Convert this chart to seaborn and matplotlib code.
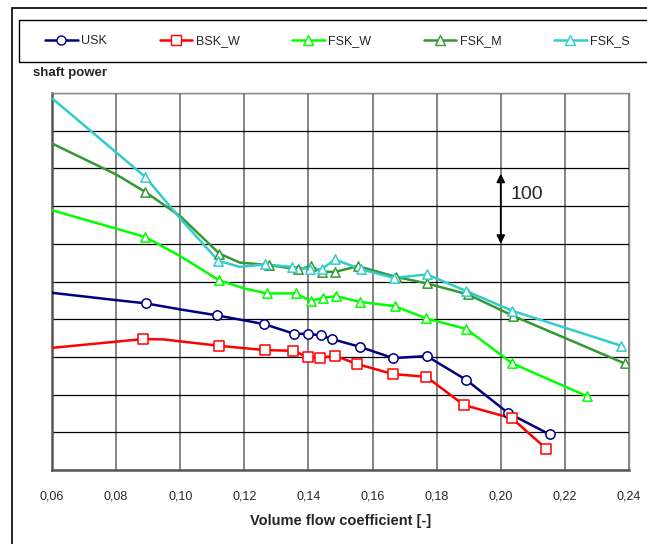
import matplotlib
matplotlib.use('Agg')
import matplotlib.pyplot as plt
import seaborn as sns
from matplotlib.lines import Line2D
from matplotlib.patches import Rectangle

# valores (eixo y sem escala, 50 unidades por linha de grade)
usk_x = [0.06, 0.08, 0.0893, 0.10, 0.1116, 0.1262, 0.1356, 0.1399, 0.1438, 0.1474,
         0.156, 0.1664, 0.1769, 0.1893, 0.2022, 0.2152]
usk_y = [235, 225.3, 221, 213, 205, 193.5, 180.6, 180.6, 178.5, 173.6,
         163.4, 148.4, 151.1, 119.3, 75.9, 47.3]
usk_m = [0, 0, 1, 0, 1, 1, 1, 1, 1, 1, 1, 1, 1, 1, 1, 1]

bsk_x = [0.06, 0.0883, 0.0948, 0.1121, 0.1265, 0.1353, 0.1399, 0.1436, 0.1483,
         0.1552, 0.1664, 0.1768, 0.1885, 0.2035, 0.2142]
bsk_y = [162, 173.6, 173.2, 164.7, 159, 158.1, 149.3, 148.8, 151.5,
         140.5, 127.2, 123.6, 86.1, 68.5, 28.2]
bsk_m = [0, 1, 0, 1, 1, 1, 1, 1, 1, 1, 1, 1, 1, 1, 1]

fskw_x = [0.06, 0.0891, 0.10, 0.1122, 0.12, 0.127, 0.1361, 0.1407, 0.1446, 0.1486,
          0.156, 0.1669, 0.1768, 0.1893, 0.2036, 0.2268]
fskw_y = [344.6, 309, 283.6, 251.5, 240.8, 234.2, 234.2, 224.4, 228.3, 230.6,
          223, 217.3, 201, 186.9, 141.4, 98.1]
fskw_m = [0, 1, 0, 1, 0, 1, 1, 1, 1, 1, 1, 1, 1, 1, 1, 1]

fskm_x = [0.06, 0.08, 0.0891, 0.10, 0.1122, 0.1186, 0.1278, 0.1368, 0.1408, 0.1441,
          0.1483, 0.1555, 0.1672, 0.177, 0.1898, 0.2038, 0.2386]
fskm_y = [433, 392, 368.8, 336.6, 287, 275.1, 271.7, 266, 270.3, 262.8,
          262.8, 270.3, 256.2, 247.4, 232.8, 204.5, 141.4]
fskm_m = [0, 0, 1, 0, 1, 0, 1, 1, 1, 1, 1, 1, 1, 1, 1, 1, 1]

fsks_x = [0.06, 0.0891, 0.10, 0.1119, 0.1186, 0.1264, 0.1348, 0.1405, 0.1441, 0.1483,
          0.1563, 0.1666, 0.177, 0.1893, 0.2036, 0.2376]
fsks_y = [493, 388.7, 333.5, 277.4, 269.4, 272.6, 269.4, 266.4, 266.4, 279.2,
          266.4, 254.8, 259.3, 237.2, 211.1, 164.7]
fsks_m = [0, 1, 0, 1, 0, 1, 1, 1, 1, 1, 1, 1, 1, 1, 1, 1]

xticks = [0.06, 0.08, 0.10, 0.12, 0.14, 0.16, 0.18, 0.20, 0.22, 0.24]
xtick_labels = ['0,06', '0,08', '0,10', '0,12', '0,14', '0,16', '0,18', '0,20', '0,22', '0,24']

series = [
    ('USK', usk_x, usk_y, usk_m, '#000080', 'o'),
    ('BSK_W', bsk_x, bsk_y, bsk_m, '#FF0000', 's'),
    ('FSK_W', fskw_x, fskw_y, fskw_m, '#00FF00', '^'),
    ('FSK_M', fskm_x, fskm_y, fskm_m, '#339933', '^'),
    ('FSK_S', fsks_x, fsks_y, fsks_m, '#33CCCC', '^'),
]

sns.set_style('white')
plt.rcParams['font.family'] = ['Liberation Sans', 'DejaVu Sans']

fig = plt.figure(figsize=(6.47, 5.44), dpi=100)
ax = fig.add_axes([52/647, 74/544, 577/647, 377/544])

handles = []
for nome, xs, ys, ms, cor, mk in series:
    sns.lineplot(x=xs, y=ys, sort=False, estimator=None, color=cor, lw=1.8, ax=ax, zorder=3)
    px = [x for x, m in zip(xs, ms) if m]
    py = [y for y, m in zip(ys, ms) if m]
    sns.scatterplot(x=px, y=py, marker=mk, s=45, facecolor='white', edgecolor=cor,
                    linewidth=1.1, ax=ax, zorder=4)
    handles.append(Line2D([], [], color=cor, lw=1.8, marker=mk, markersize=6.5,
                          markerfacecolor='white', markeredgecolor=cor, label=nome))

ax.set_xlim(0.06, 0.24)
ax.set_ylim(0, 500)
ax.set_xticks(xticks)
ax.set_xticklabels(xtick_labels, fontsize=9)
ax.set_yticks(range(0, 501, 50))
ax.set_yticklabels([])
ax.grid(True, axis='y', color='black', lw=0.9)
ax.grid(True, axis='x', color='#707070', lw=1.2)
ax.tick_params(axis='x', direction='out', length=5, width=1, color='#555555', pad=10)
ax.tick_params(axis='y', direction='out', length=4, width=1, color='#555555')
for lado in ['left', 'bottom']:
    ax.spines[lado].set_color('#555555')
    ax.spines[lado].set_linewidth(1.8)
for lado in ['top', 'right']:
    ax.spines[lado].set_color('#888888')
    ax.spines[lado].set_linewidth(1.0)
ax.set_xlabel('Volume flow coefficient [-]', fontsize=10.5, fontweight='bold', labelpad=8)
ax.set_ylabel('')

# seta de escala 100
ax.annotate('', xy=(0.2, 393), xytext=(0.2, 300),
            arrowprops=dict(arrowstyle='<|-|>', color='black', lw=1.3, mutation_scale=12,
                            shrinkA=0, shrinkB=0))
ax.text(0.2031, 366, '100', fontsize=14, va='center', ha='left')

fig.text(33/647, 1 - 73/544, 'shaft power', fontsize=9.5, fontweight='bold', va='center')

# moldura externa e caixa da legenda
fig.patches.append(Rectangle((12/647, -0.05), 1.2, 1.05 - 8/544, transform=fig.transFigure,
                             fill=False, edgecolor='black', lw=1.2))
fig.patches.append(Rectangle((19/647, 1 - 62/544), 1.2, 42/544, transform=fig.transFigure,
                             fill=False, edgecolor='black', lw=1.0))
fig.legend(handles=handles, ncol=5, loc='center left',
           bbox_to_anchor=(45/647, 1 - 41/544), frameon=False, fontsize=9,
           handlelength=2.6, handletextpad=0.3, columnspacing=4.2,
           borderaxespad=0, borderpad=0)

plt.savefig('out.png', dpi=100)
